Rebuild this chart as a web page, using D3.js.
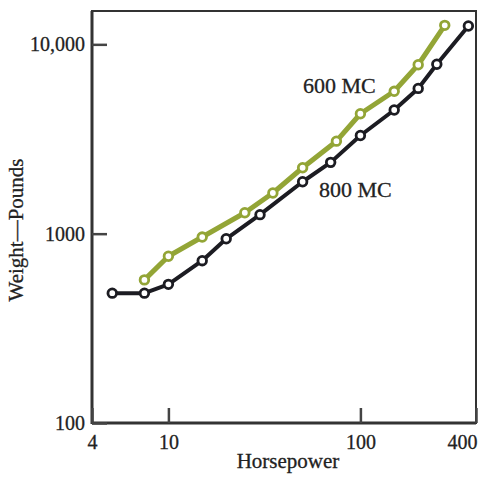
<!doctype html>
<html>
<head>
<meta charset="utf-8">
<script src="https://d3js.org/d3.v7.min.js"></script>
<style>
  body { margin: 0; background: #fff; }
  text { font-family: "Liberation Serif", "DejaVu Serif", serif; fill: #222; stroke: #222; stroke-width: 0.3px; }
</style>
</head>
<body>
<svg width="479" height="485"></svg>
<script>
// horsepower vs weight
var hp800 = [5.1, 7.5, 10, 15, 20, 30, 50, 70, 100, 150, 200, 250, 365];
var wt800 = [485, 485, 540, 720, 940, 1260, 1880, 2380, 3300, 4500, 5850, 7850, 12500];
var hp600 = [7.5, 10, 15, 25, 35, 50, 75, 100, 150, 200, 275];
var wt600 = [570, 760, 960, 1290, 1640, 2230, 3080, 4300, 5650, 7800, 12600];

var xTicks = [4, 10, 100, 400];
var yTicks = [100, 1000, 10000];
var yTickLabels = ["100", "1000", "10,000"];

var svg = d3.select("svg");

var pl = 92, pr = 476, pt = 11, pb = 423;

var x = d3.scaleLog().domain([4, 400]).range([pl, pr]);
var y = d3.scaleLog().domain([100, 15000]).range([pb, pt]);

// frame
svg.append("rect")
   .attr("x", pl).attr("y", pt)
   .attr("width", pr - pl).attr("height", pb - pt)
   .attr("fill", "none").attr("stroke", "#333").attr("stroke-width", 2);
svg.append("line")
   .attr("x1", pl).attr("x2", pl).attr("y1", pt).attr("y2", pb + 1)
   .attr("stroke", "#333").attr("stroke-width", 3);
svg.append("line")
   .attr("x1", pl).attr("x2", pr).attr("y1", pb).attr("y2", pb)
   .attr("stroke", "#333").attr("stroke-width", 3);

var xAxis = svg.append("g")
   .attr("transform", "translate(0," + pb + ")")
   .call(d3.axisBottom(x).tickValues(xTicks).tickSizeInner(-15).tickSizeOuter(0)
        .tickPadding(12).tickFormat(d3.format("d")));

var yAxis = svg.append("g")
   .attr("transform", "translate(" + pl + ",0)")
   .call(d3.axisLeft(y).tickValues(yTicks).tickSizeInner(-15).tickSizeOuter(0)
        .tickPadding(7).tickFormat(function(d, i) { return yTickLabels[i]; }));

[xAxis, yAxis].forEach(function(a) {
    a.select(".domain").remove();
    a.selectAll("line").attr("stroke", "#444").attr("stroke-width", 2.5);
    a.selectAll("text").attr("font-size", 20).attr("fill", "#222")
     .attr("font-family", "Liberation Serif");
});
// last x label sits inside the frame's right edge
xAxis.selectAll("text").filter(function(d) { return d === 400; })
     .attr("text-anchor", "end").attr("dx", 1);

// axis titles
svg.append("text")
   .attr("x", 288).attr("y", 468)
   .attr("text-anchor", "middle")
   .attr("font-size", 21)
   .text("Horsepower");

svg.append("text")
   .attr("transform", "translate(23,230) rotate(-90)")
   .attr("text-anchor", "middle")
   .attr("font-size", 21)
   .text("Weight\u2014Pounds");

function drawSeries(hp, wt, color, width) {
    var pts = hp.map(function(h, i) { return [h, wt[i]]; });
    var line = d3.line()
        .x(function(d) { return x(d[0]); })
        .y(function(d) { return y(d[1]); });
    svg.append("path")
       .datum(pts)
       .attr("d", line)
       .attr("fill", "none")
       .attr("stroke", color)
       .attr("stroke-width", width)
       .attr("stroke-linejoin", "round");
    svg.selectAll(null)
       .data(pts)
       .enter()
       .append("circle")
       .attr("cx", function(d) { return x(d[0]); })
       .attr("cy", function(d) { return y(d[1]); })
       .attr("r", 4.3)
       .attr("fill", "#fff")
       .attr("stroke", color)
       .attr("stroke-width", 2.8);
}

drawSeries(hp800, wt800, "#1c1c22", 4);
drawSeries(hp600, wt600, "#93a536", 5);

svg.append("text")
   .attr("x", 303).attr("y", 93)
   .attr("font-size", 22)
   .text("600 MC");

svg.append("text")
   .attr("x", 319).attr("y", 197)
   .attr("font-size", 22)
   .text("800 MC");
</script>
</body>
</html>
